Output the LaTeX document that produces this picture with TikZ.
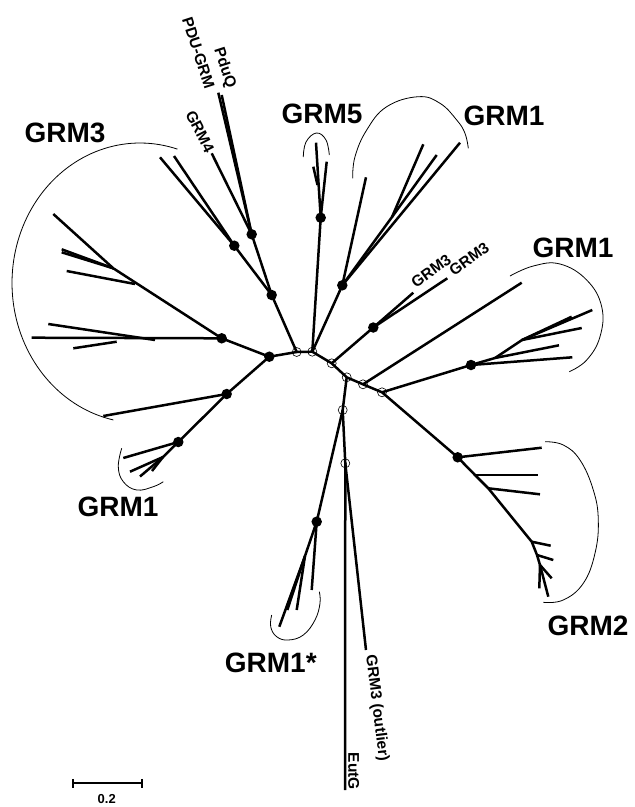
\documentclass[tikz,border=0pt]{standalone}
\usepackage{fontspec}
\setmainfont{Liberation Sans}
\begin{document}
\begin{tikzpicture}[x=1pt,y=-1pt,
 br/.style={line width=2.5pt},
 bk/.style={line width=0.8pt},
 dot/.style={circle,fill=black,inner sep=0pt,minimum size=10.5pt},
 odot/.style={circle,draw=black,line width=0.6pt,inner sep=0pt,minimum size=9pt},
 big/.style={font=\bfseries\fontsize{28}{30}\selectfont,inner sep=0pt},
 sml/.style={font=\bfseries\fontsize{15.5}{17}\selectfont,inner sep=0pt}]
\useasboundingbox (0,0) rectangle (635,807);
% backbone
\coordinate (L) at (269.3,356.7);
\coordinate (C1) at (296.7,352);
\coordinate (C2) at (312.3,351.7);
\coordinate (C3) at (331.7,363.3);
\coordinate (C4) at (346.7,377.3);
\coordinate (C5) at (363,384.3);
\coordinate (C6) at (382,392.3);
\coordinate (C7) at (342.7,410);
\coordinate (C8) at (345.3,463.3);
% upper-left clade
\coordinate (D1) at (271.7,295);
\coordinate (D2) at (251.7,234.3);
\coordinate (D3) at (234.3,245.7);
\coordinate (pduq) at (221.7,95);
\coordinate (pdugrm) at (218.3,92.7);
\coordinate (grm4) at (211.7,153.3);
\coordinate (g3a) at (160,157.3);
\coordinate (g3b) at (174,156);
% GRM3 fan
\coordinate (F) at (221.7,338.3);
\coordinate (Fa) at (135,284);
\coordinate (Fb) at (113.3,268.3);
\coordinate (Fc) at (155,340);
\coordinate (Fd) at (116.7,341.7);
\coordinate (f1) at (53.3,214);
\coordinate (f2) at (66.7,271);
\coordinate (f3) at (61.7,249.3);
\coordinate (f4) at (61.7,252.3);
\coordinate (f5) at (31.7,337.7);
\coordinate (f6) at (48.3,324);
\coordinate (f7) at (73.3,348.3);
% lower left
\coordinate (LD) at (226.7,394);
\coordinate (ll) at (103.3,416);
\coordinate (G1L) at (178.3,442);
\coordinate (G1Li) at (163,457);
\coordinate (l1) at (123.3,458);
\coordinate (l2) at (130,471.7);
\coordinate (l3) at (140,476.5);
\coordinate (l4) at (152,471);
% GRM5
\coordinate (G5) at (320.7,217.7);
\coordinate (g51) at (316,142.7);
\coordinate (g52) at (313.3,166.7);
\coordinate (g53) at (326.7,161.7);
\coordinate (g5i) at (317.5,185);
% GRM1 top
\coordinate (G1T) at (342.3,285.3);
\coordinate (G1Ti) at (392,217);
\coordinate (t1) at (366,177.3);
\coordinate (t2) at (423.3,144.3);
\coordinate (t3) at (436.7,155);
\coordinate (t4) at (460,142.7);
% GRM3 pair
\coordinate (D4) at (373.3,327.5);
\coordinate (s1) at (413.3,292.7);
\coordinate (s2) at (447.3,278.3);
% GRM1 right
\coordinate (r0) at (521.7,282.7);
\coordinate (G1R) at (471,365);
\coordinate (G1Ri) at (495,358);
\coordinate (G1Rj) at (522,340);
\coordinate (r1) at (592.3,310);
\coordinate (r2) at (581.7,328);
\coordinate (r3) at (559,345.3);
\coordinate (r4) at (572.3,357.3);
\coordinate (r5) at (571.7,316.7);
% GRM2
\coordinate (G2) at (457.7,457.3);
\coordinate (G2a) at (475,475);
\coordinate (G2b) at (488.3,488.3);
\coordinate (G2c) at (531.7,541.7);
\coordinate (G2d) at (537,555);
\coordinate (G2e) at (540,565);
\coordinate (q1) at (541.7,447.7);
\coordinate (q2) at (537.7,475);
\coordinate (q3) at (540,494.3);
\coordinate (q4) at (550.7,545.7);
\coordinate (q5) at (553.3,560);
\coordinate (q6) at (551.7,578.3);
\coordinate (q7) at (548.3,596.7);
\coordinate (q8) at (539.3,588.3);
% GRM1*
\coordinate (G1S) at (316.7,521.7);
\coordinate (G1Si) at (305,556);
\coordinate (m1) at (311.7,590);
\coordinate (m2) at (296.7,610);
\coordinate (m3) at (287.3,610);
\coordinate (m4) at (279.3,626.7);
% outgroups
\coordinate (eutg) at (345,790);
\coordinate (outl) at (366,650);

% branches
\draw[br] (L) -- (C1) -- (C2) -- (C3) -- (C4) -- (C5) -- (C6) -- (G2);
\draw[br] (C1) -- (D1) -- (D2) -- (pduq);
\draw[br] (D2) -- (pdugrm);
\draw[br] (D2) -- (grm4);
\draw[br] (D1) -- (D3) -- (g3a);
\draw[br] (D3) -- (g3b);
\draw[br] (L) -- (F) -- (Fb) -- (f1);
\draw[br] (Fa) -- (f2);
\draw[br] (Fb) -- (f3);
\draw[br] (Fb) -- (f4);
\draw[br] (F) -- (f5);
\draw[br] (Fc) -- (f6);
\draw[br] (Fd) -- (f7);
\draw[br] (L) -- (LD) -- (ll);
\draw[br] (LD) -- (G1L) -- (l1);
\draw[br] (G1L) -- (G1Li) -- (l2);
\draw[br] (G1Li) -- (l3);
\draw[br] (G1Li) -- (l4);
\draw[br] (C2) -- (G5) -- (g51);
\draw[br] (G5) -- (g53);
\draw[br] (g5i) -- (g52);
\draw[br] (C2) -- (G1T) -- (t1);
\draw[br] (G1T) -- (G1Ti) -- (t2);
\draw[br] (G1Ti) -- (t3);
\draw[br] (G1T) -- (t4);
\draw[br] (C3) -- (D4) -- (s1);
\draw[br] (D4) -- (s2);
\draw[br] (C5) -- (r0);
\draw[br] (C6) -- (G1R) -- (r4);
\draw[br] (G1R) -- (G1Ri) -- (r3);
\draw[br] (G1Ri) -- (G1Rj) -- (r1);
\draw[br] (G1Rj) -- (r2);
\draw[br] (G1Rj) -- (r5);
\draw[br] (G2) -- (G2a) -- (G2b) -- (G2c) -- (G2d) -- (G2e) -- (q7);
\draw[br] (G2) -- (q1);
\draw[br] (G2a) -- (q2);
\draw[br] (G2b) -- (q3);
\draw[br] (G2c) -- (q4);
\draw[br] (G2d) -- (q5);
\draw[br] (G2e) -- (q6);
\draw[br] (G2e) -- (q8);
\draw[br] (C4) -- (C7) -- (C8) -- (eutg);
\draw[br] (C8) -- (outl);
\draw[br] (C7) -- (G1S) -- (m1);
\draw[br] (G1S) -- (G1Si) -- (m2);
\draw[br] (G1Si) -- (m3);
\draw[br] (G1Si) -- (m4);

% node markers
\foreach \p in {L,D1,D2,D3,F,LD,G1L,G5,G1T,D4,G1R,G2,G1S}
  \node[dot] at (\p) {};
\foreach \p in {C1,C2,C3,C4,C5,C6,C7,C8}
  \node[odot] at (\p) {};

% clade brackets
\draw[bk] plot[domain=-258:-73,samples=90,variable=\t] ({140+128*cos(\t)},{283+140*sin(\t)});
\draw[bk] plot[smooth,tension=0.7] coordinates {(303.3,157) (306,142) (316.5,133) (326,140) (329.3,155)};
\draw[bk] plot[smooth,tension=0.7] coordinates {(352.7,178.3) (355,156.7) (366.7,130) (386.7,106.7) (418.3,96.7) (440,103.3) (456.7,120) (465,133.3) (468.3,148.3)};
\draw[bk] plot[smooth,tension=0.7] coordinates {(510,276) (533.3,266) (560,264) (586.7,280) (601.7,306.7) (600,336.7) (586.7,360) (569.3,371.7)};
\draw[bk] plot[smooth,tension=0.7] coordinates {(545,441.7) (563.3,445) (580,460) (593.3,490) (598.3,520) (595,553.3) (583.3,583.3) (563.3,600) (543.3,602.3)};
\draw[bk] plot[smooth,tension=0.7] coordinates {(271.7,615) (270.7,626.7) (276.7,636.7) (288.3,640) (303.3,635) (315,620) (320,603.3) (319.3,591.7)};
\draw[bk] plot[smooth,tension=0.7] coordinates {(121.7,448.3) (118.3,466.7) (123.3,481.7) (136.7,490) (153.3,486.7) (163.3,481.7)};

% clade labels
\node[big] (lg3) at (65,132.5) {GRM3};
\node[big] (lg5) at (322,114) {GRM5};
\node[big] (lg1t) at (504,115.5) {GRM1};
\node[big] (lg1r) at (573,248) {GRM1};
\node[big] (lg2) at (588,626) {GRM2};
\node[big] (lg1s) at (270.8,662.5) {GRM1*};
\node[big] (lg1l) at (118,507) {GRM1};

% leaf labels
\node[sml,rotate=-72] (tpq) at (224.5,68) {PduQ};
\node[sml,rotate=-72] (tpg) at (198.5,53) {PDU-GRM};
\node[sml,rotate=-63] (tg4) at (200,131.7) {GRM4};
\node[sml,rotate=36] (tga) at (431,271) {GRM3};
\node[sml,rotate=36] (tgb) at (469,259) {GRM3};
\node[sml,rotate=-83] (tout) at (376.7,708) {GRM3 (outlier)};
\node[sml,rotate=-90] (teut) at (353.7,771.3) {EutG};

% scale bar
\coordinate (sb1) at (72.7,783.3);
\coordinate (sb2) at (141.7,783.3);
\draw[line width=1.8pt] (sb1) -- (sb2);
\draw[line width=1.8pt] ([yshift=4.5pt]sb1) -- ([yshift=-4.5pt]sb1);
\draw[line width=1.8pt] ([yshift=4.5pt]sb2) -- ([yshift=-4.5pt]sb2);
\node[font=\bfseries\fontsize{13}{15}\selectfont,inner sep=0pt] (sbl) at (106.7,799) {0.2};
\end{tikzpicture}
\end{document}
